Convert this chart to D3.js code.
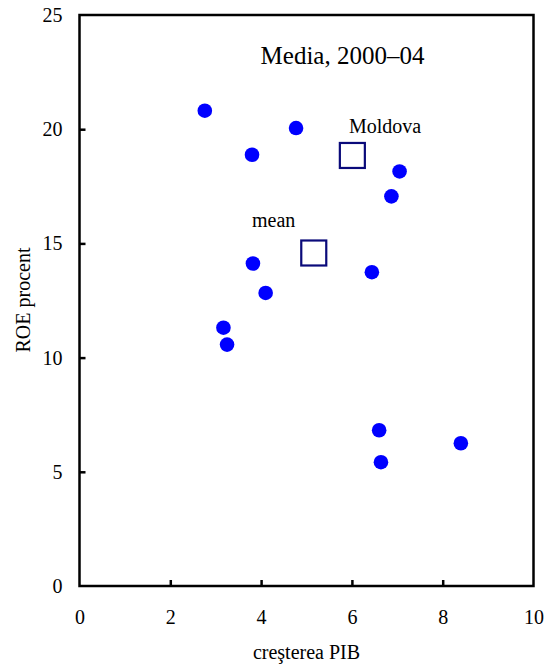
<!DOCTYPE html>
<html><head><meta charset="utf-8">
<script src="https://cdn.jsdelivr.net/npm/d3@7"></script>
<style>body{margin:0;background:#fff}svg{display:block}text{font-family:"Liberation Serif","Times New Roman",serif;fill:#000}</style>
</head><body>
<script>
const gdpGrowth = [2.76, 4.77, 3.80, 7.05, 6.87, 3.82, 6.44, 4.10, 3.17, 3.25, 6.60, 8.40, 6.64];
const roe       = [20.81, 20.05, 18.88, 18.15, 17.06, 14.12, 13.74, 12.83, 11.31, 10.57, 6.82, 6.25, 5.42];
const highlights = [{label: "Moldova", x: 6.01, y: 18.85}, {label: "mean", x: 5.16, y: 14.58}];
const xTicks = [0, 2, 4, 6, 8, 10];
const yTicks = [0, 5, 10, 15, 20, 25];
const title = "Media, 2000–04";
const xTitle = "creşterea PIB";
const yTitle = "ROE procent";

const W = 554, H = 669;
const svg = d3.select("body").append("svg").attr("width", W).attr("height", H);
const x = d3.scaleLinear().domain([0, 10]).range([79.5, 533.5]);
const y = d3.scaleLinear().domain([0, 25]).range([586, 15]);

// frame
svg.append("rect").attr("x", x(0)).attr("y", y(25)).attr("width", x(10) - x(0)).attr("height", y(0) - y(25))
  .attr("fill", "none").attr("stroke", "#000").attr("stroke-width", 2.5);

const xa = svg.append("g").attr("transform", `translate(0,${y(0)})`)
  .call(d3.axisBottom(x).tickValues(xTicks).tickSize(-6).tickPadding(24).tickFormat(d3.format("d")));
xa.select(".domain").remove();
xa.selectAll("line").attr("stroke-width", 2.5);
xa.selectAll("line").filter(d => d === 0 || d === 10).remove();
xa.selectAll("text").style("font-size", "20px").style("font-family", "Liberation Serif").attr("dy", "0.71em");

const ya = svg.append("g").attr("transform", `translate(${x(0)},0)`)
  .call(d3.axisLeft(y).tickValues(yTicks).tickSize(-6).tickPadding(17).tickFormat(d3.format("d")));
ya.select(".domain").remove();
ya.selectAll("line").attr("stroke-width", 2.5);
ya.selectAll("line").filter(d => d === 0 || d === 25).remove();
ya.selectAll("text").style("font-size", "20px").style("font-family", "Liberation Serif");

svg.append("text").attr("x", (x(0) + x(10)) / 2).attr("y", 659).attr("text-anchor", "middle")
  .style("font-size", "20px").text(xTitle);
svg.append("text").attr("transform", `translate(30,300) rotate(-90)`).attr("text-anchor", "middle")
  .style("font-size", "20px").text(yTitle);
svg.append("text").attr("x", 342.5).attr("y", 64).attr("text-anchor", "middle")
  .style("font-size", "25px").text(title);

svg.append("g").selectAll("circle").data(gdpGrowth).join("circle")
  .attr("cx", d => x(d)).attr("cy", (d, i) => y(roe[i])).attr("r", 7.3).attr("fill", "#0000ff");

const s = 25;
svg.append("g").selectAll("rect").data(highlights).join("rect")
  .attr("x", d => x(d.x) - s / 2).attr("y", d => y(d.y) - s / 2).attr("width", s).attr("height", s)
  .attr("fill", "none").attr("stroke", "#0a0a7a").attr("stroke-width", 2.2);

svg.append("text").attr("x", 349).attr("y", 133).style("font-size", "20px").text(highlights[0].label);
svg.append("text").attr("x", 252).attr("y", 227).style("font-size", "20px").text(highlights[1].label);
</script>
</body></html>
